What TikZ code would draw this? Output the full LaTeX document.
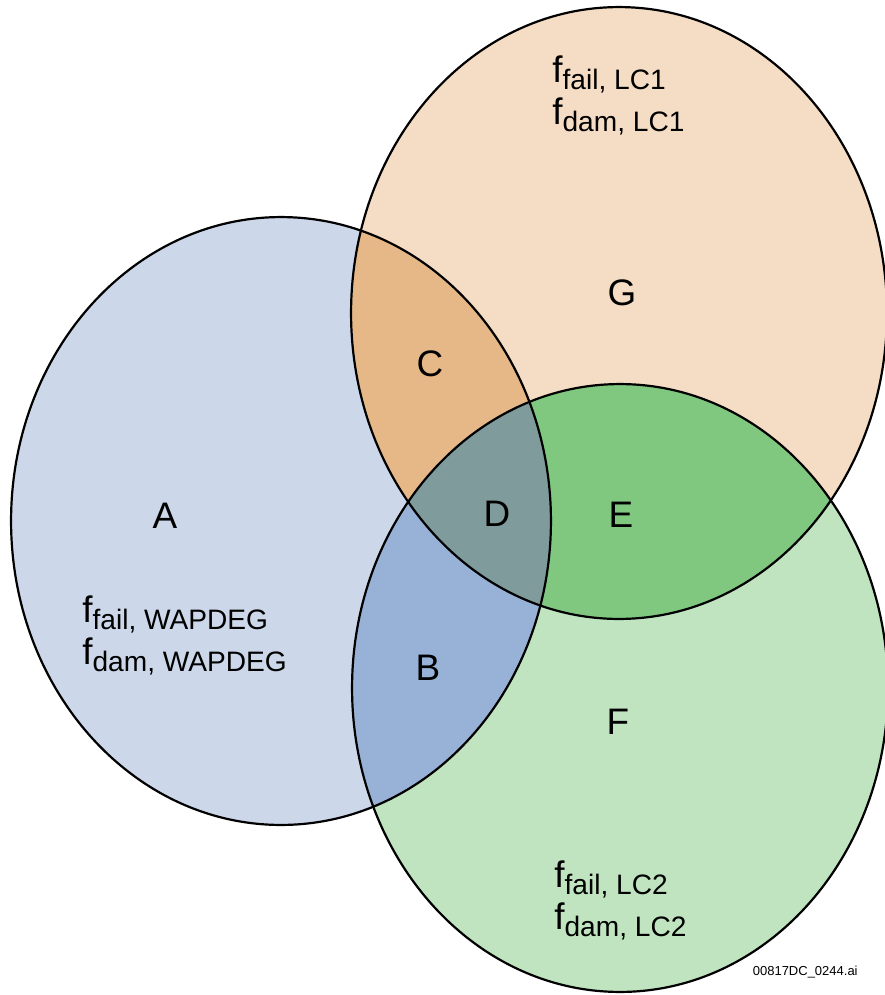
\documentclass[tikz,border=0pt]{standalone}
\usepackage{fontspec}
\setmainfont{Liberation Sans}
\usepackage{tikz}
\usetikzlibrary{positioning}

\definecolor{regA}{HTML}{CCD8EA}
\definecolor{regG}{HTML}{F5DCC4}
\definecolor{regF}{HTML}{C0E4C0}
\definecolor{regC}{HTML}{E6B888}
\definecolor{regB}{HTML}{98B1D7}
\definecolor{regE}{HTML}{80C880}
\definecolor{regD}{HTML}{809B9C}

% the three sets
\newcommand{\setWap}{(281,521) ellipse [x radius=5.4cm, y radius=6.08cm]}
\newcommand{\setLcOne}{(619,313) ellipse [x radius=5.36cm, y radius=6.12cm]}
\newcommand{\setLcTwo}{(620,688) ellipse [x radius=5.36cm, y radius=6.08cm]}
\newcommand{\ftag}[2]{f\raisebox{-4.5pt}{\fontsize{16}{19}\selectfont #1, #2}}

\tikzset{
  rim/.style={line width=1.25pt, black},
  region/.style={font=\fontsize{21}{25}\selectfont, inner sep=0pt},
  flabel/.style={font=\fontsize{21}{25}\selectfont, anchor=base west, inner sep=0pt},
}

\begin{document}
\begin{tikzpicture}[x=0.02cm, y=-0.02cm]
    \useasboundingbox (0,0) rectangle (885,995);
    \fill [regA] \setWap;
    \fill [regG] \setLcOne;
    \fill [regF] \setLcTwo;
    \begin{scope}
        \clip \setWap;
        \fill [regC] \setLcOne;
        \fill [regB] \setLcTwo;
    \end{scope}
    \begin{scope}
        \clip \setLcOne;
        \fill [regE] \setLcTwo;
    \end{scope}
    \begin{scope} % centre
        \clip \setWap;
        \clip \setLcOne;
        \fill [regD] \setLcTwo;
    \end{scope}
    \draw [rim] \setWap;
    \draw [rim] \setLcOne;
    \draw [rim] \setLcTwo;

    \node [region] (A) at (165, 516) {A};
    \node [region] (B) at (428, 668) {B};
    \node [region] (C) at (430, 364) {C};
    \node [region] (D) at (497, 514) {D};
    \node [region] (E) at (621, 515) {E};
    \node [region] (F) at (618, 722) {F};
    \node [region] (G) at (622, 293) {G};

    \node [flabel] (failW) at (82, 622) {\ftag{fail}{WAPDEG}};
    \node [flabel] (damW) at (82, 664) {\ftag{dam}{WAPDEG}};
    \node [flabel] (failL1) at (552, 82) {\ftag{fail}{LC1}};
    \node [flabel] (damL1) at (552, 124) {\ftag{dam}{LC1}};
    \node [flabel] (failL2) at (554, 887) {\ftag{fail}{LC2}};
    \node [flabel] (damL2) at (554, 929) {\ftag{dam}{LC2}};

    \node [anchor=base east, inner sep=0pt, font=\fontsize{7.4}{9}\selectfont] (file) at (858, 975) {00817DC\_0244.ai};
\end{tikzpicture}
\end{document}
